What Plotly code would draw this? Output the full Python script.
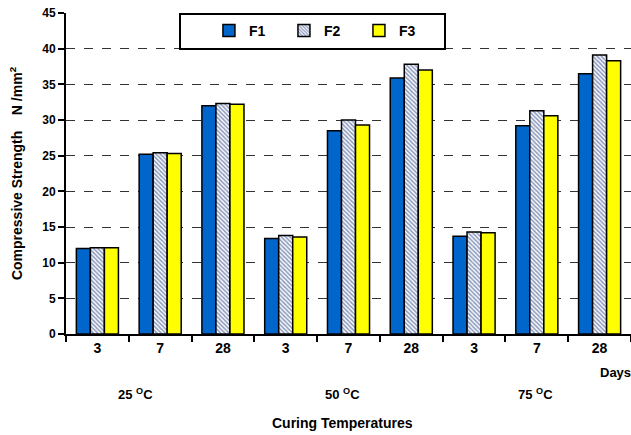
import plotly.graph_objects as go

# categories: temperature group + curing days
cats = ["25-3", "25-7", "25-28", "50-3", "50-7", "50-28", "75-3", "75-7", "75-28"]
day_labels = ["3", "7", "28", "3", "7", "28", "3", "7", "28"]

f1 = [12.0, 25.2, 32.0, 13.4, 28.5, 35.9, 13.7, 29.2, 36.5]
f2 = [12.1, 25.4, 32.3, 13.8, 30.0, 37.8, 14.3, 31.3, 39.1]
f3 = [12.1, 25.3, 32.2, 13.6, 29.3, 37.0, 14.2, 30.6, 38.3]

font_fam = "Liberation Sans, Arial, sans-serif"
line_black = dict(color="black", width=1.5)

fig = go.Figure()
fig.add_trace(go.Bar(x=cats, y=f1, name="F1",
                     marker=dict(color="#0066cc", line=line_black)))
fig.add_trace(go.Bar(x=cats, y=f2, name="F2",
                     marker=dict(color="#ffffff", line=line_black,
                                 pattern=dict(shape="\\", fgcolor="#1f3a80",
                                              bgcolor="#ffffff", size=3,
                                              solidity=0.55))))
fig.add_trace(go.Bar(x=cats, y=f3, name="F3",
                     marker=dict(color="#ffff00", line=line_black)))

fig.update_layout(
    width=631, height=435,
    margin=dict(l=66, r=0, t=13, b=101),
    paper_bgcolor="white", plot_bgcolor="white",
    font=dict(family=font_fam, size=12, color="black", weight="bold"),
    barmode="group", bargap=0.33, bargroupgap=0,
    showlegend=True,
    legend=dict(orientation="h", x=0.253, xanchor="left", y=0.944, yanchor="middle",
                bgcolor="rgba(0,0,0,0)", borderwidth=0,
                entrywidth=30, entrywidthmode="pixels",
                font=dict(size=14, weight="bold")),
)

fig.update_xaxes(
    type="category", range=[-0.5, 8.5],
    tickvals=cats, ticktext=day_labels,
    tickson="boundaries", ticks="outside", ticklen=6, tickwidth=2, tickcolor="black",
    showline=True, linecolor="black", linewidth=2,
    showgrid=False, zeroline=False,
    tickfont=dict(size=14, weight="bold"),
)
fig.update_yaxes(
    range=[0, 45], dtick=5,
    ticks="outside", ticklen=6, tickwidth=1.5, tickcolor="black",
    showline=True, linecolor="black", linewidth=2,
    showgrid=True, gridcolor="#333333", gridwidth=1, griddash="dash",
    zeroline=False,
    tickfont=dict(size=12, weight="bold"),
    title=dict(text="Compressive Strength    N /mm<sup>2</sup>",
               font=dict(size=14, weight="bold"), standoff=16),
)

# legend box
fig.add_shape(type="rect", xref="paper", yref="paper",
              x0=(180 - 66) / 565, x1=(445 - 66) / 565,
              y0=(334 - 49) / 321, y1=(334 - 14) / 321,
              line=dict(color="black", width=2), fillcolor="white", layer="above")

notes = [
    ("Days", (615 - 66) / 565, 372, 13),
    ("25 <sup>O</sup>C", (135 - 66) / 565, 394, 13),
    ("50 <sup>O</sup>C", (342 - 66) / 565, 394, 13),
    ("75 <sup>O</sup>C", (535 - 66) / 565, 394, 13),
    ("Curing Temperatures", (342 - 66) / 565, 423, 14),
]
for txt, xp, ypx, fs in notes:
    fig.add_annotation(text=txt, xref="paper", yref="paper",
                       x=xp, y=(334 - ypx) / 321, showarrow=False,
                       xanchor="center", yanchor="middle",
                       font=dict(size=fs, weight="bold"))

fig.write_html("out.html", config={"displayModeBar": False},
               post_script="document.body.style.margin='0';document.body.style.overflow='hidden';")
